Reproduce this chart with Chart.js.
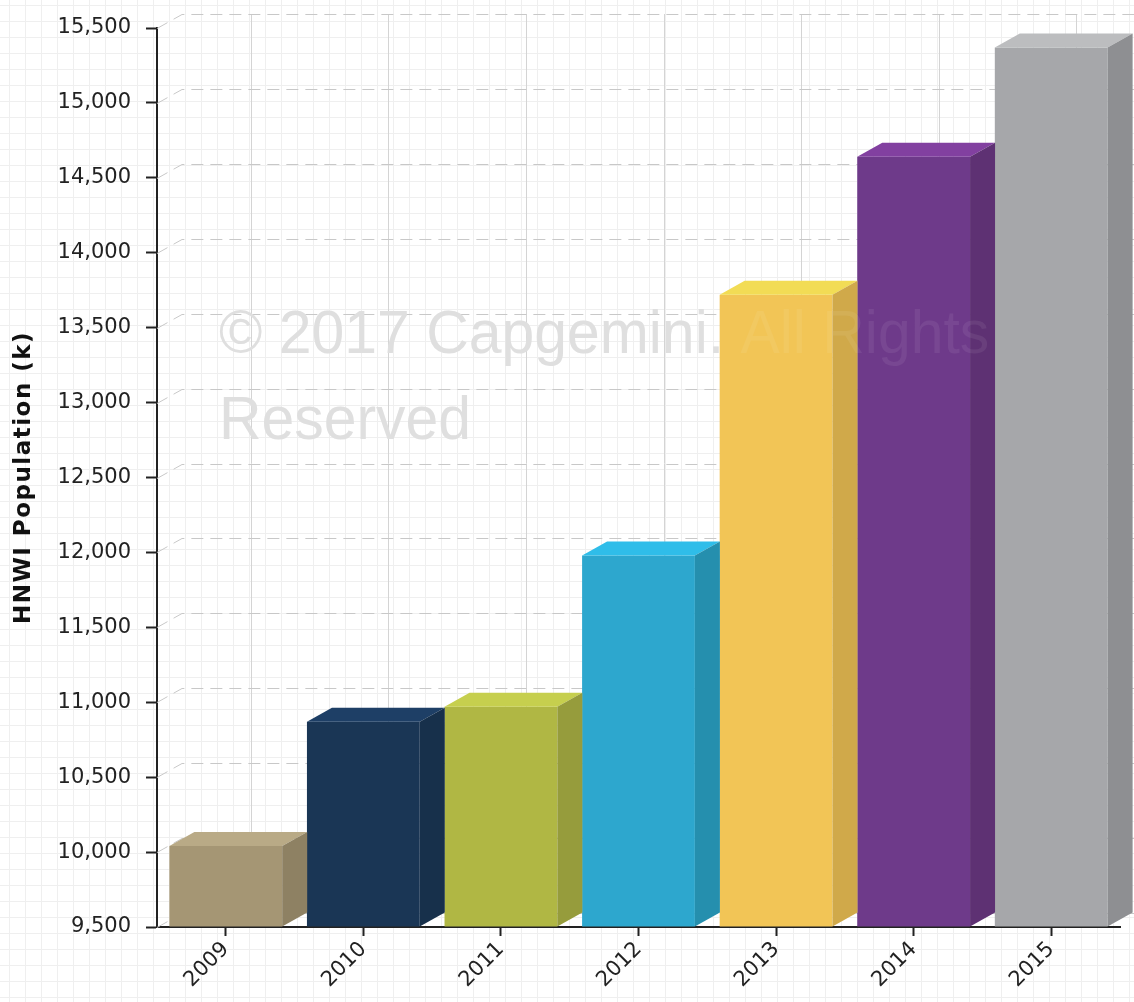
<!DOCTYPE html>
<html>
<head>
<meta charset="utf-8">
<script src="https://cdn.jsdelivr.net/npm/chart.js@4"></script>
<style>
  html, body { margin: 0; padding: 0; }
  body {
    width: 1134px; height: 1002px; overflow: hidden;
    background-color: #fff;
    background-image: linear-gradient(#efefef 1px, transparent 1px),
                      linear-gradient(90deg, #efefef 1px, transparent 1px);
    background-size: 16px 16px;
    background-position: 9px 5px;
  }
  #wrap { position: relative; width: 1134px; height: 1002px; }
</style>
</head>
<body>
<div id="wrap"><canvas id="myChart"></canvas></div>
<script>
// data
var years = ['2009', '2010', '2011', '2012', '2013', '2014', '2015'];
var hnwiPopulation = [10040, 10870, 10970, 11980, 13720, 14640, 15370];
var yMin = 9500, yMax = 15500, yStep = 500;
var axisTitle = 'HNWI Population (k)';
var watermarkLines = ['\u00a9 2017 Capgemini. All Rights', 'Reserved'];

// colours: front, top and side faces
var frontColors = ['#a59674', '#1a3655', '#b0b744', '#2da7ce', '#f2c556', '#6e3a8a', '#a6a7aa'];
var topColors   = ['#b9aa86', '#1e3f66', '#c6cf4e', '#2fbde9', '#f2dc55', '#8240a0', '#bcbdbf'];
var sideColors  = ['#8e8163', '#17304b', '#969c3c', '#258fae', '#d0a94a', '#5e3173', '#8e8f92'];

var DX = 25, DY = 14; // depth of the 3d effect

function drawWatermark(ctx, color) {
    ctx.save();
    ctx.font = '62px "Liberation Sans"';
    ctx.fillStyle = color;
    ctx.textAlign = 'left';
    ctx.textBaseline = 'alphabetic';
    ctx.translate(219, 0);
    ctx.scale(0.95, 1);
    ctx.fillText(watermarkLines[0], 0, 353);
    ctx.fillText(watermarkLines[1], 0, 439);
    ctx.restore();
}

var depthPlugin = {
    id: 'depth3d',
    beforeDatasetsDraw: function(chart) {
        var ctx = chart.ctx, area = chart.chartArea;
        var xs = chart.scales.x, ys = chart.scales.y;
        ctx.save();
        // vertical grid on back wall
        ctx.strokeStyle = '#d4d4d4';
        ctx.lineWidth = 1;
        xs.ticks.forEach(function(t, i) {
            var px = Math.round(xs.getPixelForTick(i) + DX) + 0.5;
            ctx.beginPath();
            ctx.moveTo(px, area.top - DY);
            ctx.lineTo(px, area.bottom - DY);
            ctx.stroke();
        });
        // dashed horizontal grid on back wall
        ctx.strokeStyle = '#c8c8c8';
        ctx.setLineDash([12, 7]);
        ys.ticks.forEach(function(t) {
            var py = Math.round(ys.getPixelForValue(t.value)) + 0.5;
            ctx.beginPath();
            ctx.moveTo(area.left, py);
            ctx.lineTo(area.left + DX, py - DY);
            ctx.lineTo(chart.width, py - DY);
            ctx.stroke();
        });
        ctx.restore();
        drawWatermark(ctx, '#dddddd');
    },
    afterDatasetsDraw: function(chart) {
        var ctx = chart.ctx;
        var meta = chart.getDatasetMeta(0);
        ctx.save();
        meta.data.forEach(function(bar, i) {
            var p = bar.getProps(['x', 'y', 'base', 'width'], true);
            var l = p.x - p.width / 2, r = p.x + p.width / 2;
            ctx.fillStyle = topColors[i];
            ctx.beginPath();
            ctx.moveTo(l, p.y);
            ctx.lineTo(l + DX, p.y - DY);
            ctx.lineTo(r + DX, p.y - DY);
            ctx.lineTo(r, p.y);
            ctx.closePath();
            ctx.fill();
            ctx.fillStyle = sideColors[i];
            ctx.beginPath();
            ctx.moveTo(r, p.y);
            ctx.lineTo(r + DX, p.y - DY);
            ctx.lineTo(r + DX, p.base - DY);
            ctx.lineTo(r, p.base);
            ctx.closePath();
            ctx.fill();
        });
        ctx.restore();
        // faint copy of the watermark over the bars
        drawWatermark(ctx, 'rgba(255,255,255,0.07)');
    },
    afterDraw: function(chart) {
        var ctx = chart.ctx, area = chart.chartArea;
        ctx.save();
        // axis title
        ctx.translate(24, (area.top + area.bottom) / 2);
        ctx.rotate(-Math.PI / 2);
        ctx.font = 'bold 23px "DejaVu Sans"';
        ctx.letterSpacing = '1.5px';
        ctx.fillStyle = '#111';
        ctx.textAlign = 'center';
        ctx.textBaseline = 'middle';
        ctx.fillText(axisTitle, 0, 0);
        ctx.restore();
    }
};

function createChart() {
    var ctx = document.getElementById('myChart').getContext('2d');
    var chart = new Chart(ctx, {
        type: 'bar',
        data: {
            labels: years,
            datasets: [{
                label: 'HNWI Population',
                data: hnwiPopulation,
                base: yMin,
                backgroundColor: frontColors,
                borderWidth: 0,
                categoryPercentage: 1,
                barPercentage: 0.82
            }]
        },
        options: {
            responsive: false,
            animation: false,
            devicePixelRatio: 1,
            layout: { padding: { top: 28, right: 14, left: 0, bottom: 0 } },
            plugins: { legend: { display: false }, tooltip: { enabled: false } },
            scales: {
                x: {
                    grid: { offset: false, drawOnChartArea: false, tickLength: 9, tickColor: '#222', tickWidth: 2 },
                    border: { color: '#222', width: 2 },
                    ticks: {
                        autoSkip: false, maxRotation: 45, minRotation: 45, padding: 1,
                        color: '#222', font: { family: 'DejaVu Sans', size: 21 }
                    },
                    afterFit: function(s) { s.height = 75; }
                },
                y: {
                    min: yMin, max: yMax,
                    grid: { drawOnChartArea: false, tickLength: 11, tickColor: '#222', tickWidth: 2 },
                    border: { color: '#222', width: 2 },
                    ticks: {
                        stepSize: yStep, padding: 15, color: '#222',
                        font: { family: 'DejaVu Sans', size: 21 }
                    },
                    afterFit: function(s) { s.width = 157; }
                }
            }
        },
        plugins: [depthPlugin]
    });
}

var cv = document.getElementById('myChart');
cv.width = 1134; cv.height = 1002;
createChart();
</script>
</body>
</html>
